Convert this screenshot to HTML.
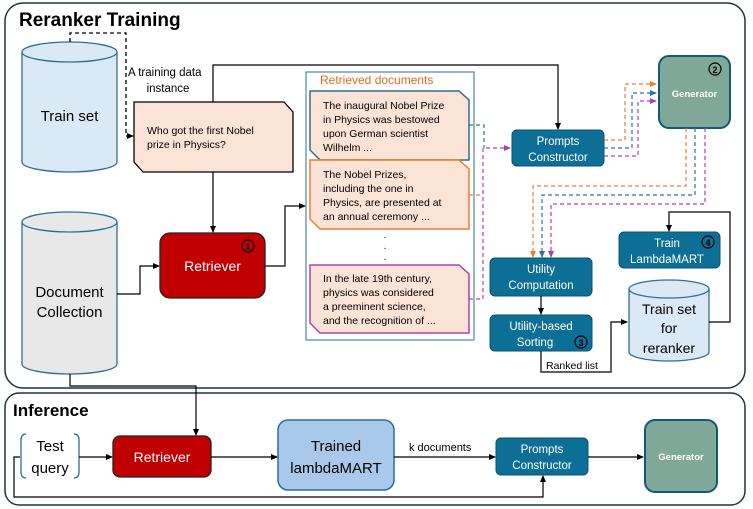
<!DOCTYPE html>
<html><head><meta charset="utf-8"><style>
html,body{margin:0;padding:0;background:#fff}
svg{display:block;font-family:"Liberation Sans",sans-serif}
</style></head><body>
<svg width="753" height="509" viewBox="0 0 753 509" xmlns="http://www.w3.org/2000/svg">
<defs>
<marker id="ak" markerWidth="8" markerHeight="8" refX="6" refY="3" orient="auto" markerUnits="userSpaceOnUse"><path d="M0,0 L7,3 L0,6 z" fill="#000"/></marker>
<marker id="ao" markerWidth="8" markerHeight="8" refX="6" refY="3" orient="auto" markerUnits="userSpaceOnUse"><path d="M0,0 L7,3 L0,6 z" fill="#ed7d31"/></marker>
<marker id="ab" markerWidth="8" markerHeight="8" refX="6" refY="3" orient="auto" markerUnits="userSpaceOnUse"><path d="M0,0 L7,3 L0,6 z" fill="#2e75a0"/></marker>
<marker id="ap" markerWidth="8" markerHeight="8" refX="6" refY="3" orient="auto" markerUnits="userSpaceOnUse"><path d="M0,0 L7,3 L0,6 z" fill="#b040b0"/></marker>
</defs>
<!-- outer boxes -->
<rect x="5" y="3" width="740" height="385" rx="18" fill="none" stroke="#1f3445" stroke-width="1.5"/>
<rect x="5" y="393" width="740" height="112" rx="14" fill="none" stroke="#1f3445" stroke-width="1.5"/>
<text x="19" y="26" font-size="19" font-weight="bold" fill="#000">Reranker Training</text>
<text x="13" y="416" font-size="17" font-weight="bold" fill="#000">Inference</text>

<!-- train set cylinder -->
<path d="M22,52 L22,162 A47.5,10 0 0 0 117,162 L117,52" fill="#dbe9f6" stroke="#2e6f96" stroke-width="1.3"/>
<ellipse cx="69.5" cy="52" rx="47.5" ry="10" fill="#dbe9f6" stroke="#2e6f96" stroke-width="1.3"/>
<text x="69.5" y="121" font-size="15" text-anchor="middle">Train set</text>
<!-- doc collection cylinder -->
<path d="M22,222 L22,364 A47.5,10 0 0 0 117,364 L117,222" fill="#e8e8e8" stroke="#2e6f96" stroke-width="1.3"/>
<ellipse cx="69.5" cy="222" rx="47.5" ry="10" fill="#e8e8e8" stroke="#2e6f96" stroke-width="1.3"/>
<text x="69.5" y="297" font-size="15" text-anchor="middle">Document</text>
<text x="69.5" y="317" font-size="15" text-anchor="middle">Collection</text>

<!-- dashed train set -> query -->
<path d="M70,42 L70,33 L126,33 L126,136 L133,136" fill="none" stroke="#000" stroke-width="1.3" stroke-dasharray="4,3" marker-end="url(#ak)"/>
<text x="128" y="76" font-size="11.5">A training data</text>
<text x="168" y="92" font-size="11.5" text-anchor="middle">instance</text>

<!-- query box -->
<path d="M134,102 L284,102 L293,112 L293,172 L143,172 L134,162 z" fill="#fbe3d6" stroke="#000" stroke-width="1.3"/>
<text x="147" y="134" font-size="10.5">Who got the first Nobel</text>
<text x="147" y="148" font-size="10.5">prize in Physics?</text>

<!-- query -> prompts constructor -->
<path d="M213,102 L213,65 L558,65 L558,129" fill="none" stroke="#000" stroke-width="1.2" marker-end="url(#ak)"/>
<!-- query -> retriever -->
<path d="M213,172 L213,232" fill="none" stroke="#000" stroke-width="1.2" marker-end="url(#ak)"/>
<!-- doc coll -> retriever -->
<path d="M117,294 L140,294 L140,266 L159,266" fill="none" stroke="#000" stroke-width="1.2" marker-end="url(#ak)"/>
<!-- retriever -> retrieved docs -->
<path d="M265,266 L285,266 L285,206 L305,206" fill="none" stroke="#000" stroke-width="1.2" marker-end="url(#ak)"/>

<!-- retriever -->
<rect x="160" y="233" width="105" height="65" rx="10" fill="#c00000" stroke="#222" stroke-width="1.3"/>
<text x="212.5" y="271" font-size="14" fill="#fff" text-anchor="middle">Retriever</text>
<circle cx="248" cy="246" r="6" fill="none" stroke="#000" stroke-width="1.2"/>
<text x="248" y="250" font-size="9" font-weight="bold" text-anchor="middle">1</text>

<!-- retrieved docs container -->
<rect x="306" y="72" width="168" height="268" fill="#fff" stroke="#4a8aa8" stroke-width="1.2"/>
<text x="320" y="84" font-size="12" fill="#e06a20">Retrieved documents</text>
<path d="M310,91 L459,91 L469,100 L469,160 L320,160 L310,150 z" fill="#fbe3d6" stroke="#2e6f96" stroke-width="1.5"/>
<text x="323" y="109" font-size="10.5">The inaugural Nobel Prize</text>
<text x="323" y="123" font-size="10.5">in Physics was bestowed</text>
<text x="323" y="137" font-size="10.5">upon German scientist</text>
<text x="323" y="151" font-size="10.5">Wilhelm ...</text>
<path d="M310,160 L459,160 L469,169 L469,229 L320,229 L310,219 z" fill="#fbe3d6" stroke="#ed7d31" stroke-width="1.5"/>
<text x="323" y="178" font-size="10.5">The Nobel Prizes,</text>
<text x="323" y="192" font-size="10.5">including the one in</text>
<text x="323" y="206" font-size="10.5">Physics, are presented at</text>
<text x="323" y="220" font-size="10.5">an annual ceremony ...</text>
<text x="385" y="238" font-size="10" text-anchor="middle">.</text>
<text x="385" y="249" font-size="10" text-anchor="middle">.</text>
<text x="385" y="260" font-size="10" text-anchor="middle">.</text>
<path d="M310,265 L459,265 L469,274 L469,333 L320,333 L310,323 z" fill="#fbe3d6" stroke="#b040b0" stroke-width="1.5"/>
<text x="323" y="282" font-size="10.5">In the late 19th century,</text>
<text x="323" y="296" font-size="10.5">physics was considered</text>
<text x="323" y="310" font-size="10.5">a preeminent science,</text>
<text x="323" y="324" font-size="10.5">and the recognition of ...</text>

<!-- dashed docs -> prompts -->
<path d="M469,125 L484,125 L484,148" fill="none" stroke="#2e75a0" stroke-width="1.2" stroke-dasharray="4,3"/>
<path d="M469,195 L483,195" fill="none" stroke="#ed7d31" stroke-width="1.2" stroke-dasharray="4,3"/>
<path d="M469,299 L483,299 L483,148 L510,148" fill="none" stroke="#b040b0" stroke-width="1.2" stroke-dasharray="4,3" marker-end="url(#ap)"/>

<!-- prompts constructor -->
<rect x="512" y="130" width="92" height="36" rx="5" fill="#0e6f96" stroke="#0a5070" stroke-width="1"/>
<text x="558" y="145" font-size="11.5" fill="#fff" text-anchor="middle">Prompts</text>
<text x="558" y="161" font-size="11.5" fill="#fff" text-anchor="middle">Constructor</text>

<!-- prompts -> generator dashed -->
<path d="M604,140 L625,140 L625,84 L656,84" fill="none" stroke="#ed7d31" stroke-width="1.2" stroke-dasharray="4,3" marker-end="url(#ao)"/>
<path d="M604,148 L632,148 L632,93 L656,93" fill="none" stroke="#2e75a0" stroke-width="1.2" stroke-dasharray="4,3" marker-end="url(#ab)"/>
<path d="M604,156 L638,156 L638,101 L656,101" fill="none" stroke="#b040b0" stroke-width="1.2" stroke-dasharray="4,3" marker-end="url(#ap)"/>

<!-- generator -->
<rect x="659" y="56" width="71" height="72" rx="10" fill="#7fa898" stroke="#0e5a78" stroke-width="2"/>
<text x="694.5" y="97" font-size="9.5" font-weight="bold" fill="#fff" text-anchor="middle">Generator</text>
<circle cx="715" cy="69" r="6" fill="none" stroke="#000" stroke-width="1.2"/>
<text x="715" y="73" font-size="9" font-weight="bold" text-anchor="middle">2</text>

<!-- generator -> utility dashed -->
<path d="M686,128 L686,186 L533,186 L533,257" fill="none" stroke="#ed7d31" stroke-width="1.2" stroke-dasharray="4,3" marker-end="url(#ao)"/>
<path d="M695,128 L695,195 L542,195 L542,257" fill="none" stroke="#2e75a0" stroke-width="1.2" stroke-dasharray="4,3" marker-end="url(#ab)"/>
<path d="M705,128 L705,204 L551,204 L551,257" fill="none" stroke="#b040b0" stroke-width="1.2" stroke-dasharray="4,3" marker-end="url(#ap)"/>

<!-- utility computation -->
<rect x="490" y="258" width="102" height="38" rx="5" fill="#0e6f96" stroke="#0a5070" stroke-width="1"/>
<text x="541" y="273" font-size="11.5" fill="#fff" text-anchor="middle">Utility</text>
<text x="541" y="289" font-size="11.5" fill="#fff" text-anchor="middle">Computation</text>
<path d="M541,296 L541,314" fill="none" stroke="#000" stroke-width="1.2" marker-end="url(#ak)"/>
<!-- sorting -->
<rect x="490" y="315" width="102" height="36" rx="5" fill="#0e6f96" stroke="#0a5070" stroke-width="1"/>
<text x="541" y="330" font-size="11.5" fill="#fff" text-anchor="middle">Utility-based</text>
<text x="535" y="346" font-size="11.5" fill="#fff" text-anchor="middle">Sorting</text>
<circle cx="581" cy="342" r="6" fill="none" stroke="#000" stroke-width="1.2"/>
<text x="581" y="346" font-size="9" font-weight="bold" text-anchor="middle">3</text>
<!-- ranked list -->
<path d="M541,351 L541,372 L611,372 L611,322 L627,322" fill="none" stroke="#000" stroke-width="1.2" marker-end="url(#ak)"/>
<text x="546" y="369" font-size="10.5">Ranked list</text>

<!-- train set for reranker -->
<path d="M629,289 L629,352 A40,9 0 0 0 709,352 L709,289" fill="#dbe9f6" stroke="#2e6f96" stroke-width="1.3"/>
<ellipse cx="669" cy="289" rx="40" ry="9" fill="#dbe9f6" stroke="#2e6f96" stroke-width="1.3"/>
<text x="669" y="314" font-size="14" text-anchor="middle">Train set</text>
<text x="669" y="333" font-size="14" text-anchor="middle">for</text>
<text x="669" y="353" font-size="14" text-anchor="middle">reranker</text>
<path d="M709,322 L730,322 L730,212 L669,212 L669,231" fill="none" stroke="#000" stroke-width="1.2" marker-end="url(#ak)"/>
<!-- train lambdamart -->
<rect x="619" y="232" width="101" height="36" rx="5" fill="#0e6f96" stroke="#0a5070" stroke-width="1"/>
<text x="667" y="247" font-size="11.5" fill="#fff" text-anchor="middle">Train</text>
<text x="667" y="263" font-size="11.5" fill="#fff" text-anchor="middle">LambdaMART</text>
<circle cx="708" cy="242" r="6" fill="none" stroke="#000" stroke-width="1.2"/>
<text x="708" y="246" font-size="9" font-weight="bold" text-anchor="middle">4</text>

<!-- inference -->
<path d="M70,374 L70,386 L196,386 L196,435" fill="none" stroke="#000" stroke-width="1.2" marker-end="url(#ak)"/>
<path d="M26,434 Q21,434 21,440 L21,472 Q21,478 26,478" fill="none" stroke="#2e6f96" stroke-width="1.3"/>
<path d="M74,434 Q79,434 79,440 L79,472 Q79,478 74,478" fill="none" stroke="#2e6f96" stroke-width="1.3"/>
<text x="50" y="451" font-size="15" text-anchor="middle">Test</text>
<text x="50" y="473" font-size="15" text-anchor="middle">query</text>
<path d="M79,457 L112,457" fill="none" stroke="#000" stroke-width="1.2" marker-end="url(#ak)"/>
<path d="M20,457 L14,457 L14,497 L543,497 L543,476" fill="none" stroke="#000" stroke-width="1.2" marker-end="url(#ak)"/>
<rect x="113" y="436" width="98" height="41" rx="7" fill="#c00000" stroke="#222" stroke-width="1.3"/>
<text x="162" y="462" font-size="14" fill="#fff" text-anchor="middle">Retriever</text>
<path d="M211,457 L277,457" fill="none" stroke="#000" stroke-width="1.2" marker-end="url(#ak)"/>
<rect x="278" y="420" width="116" height="70" rx="10" fill="#a9c9ea" stroke="#2e6f96" stroke-width="1.5"/>
<text x="336" y="451" font-size="15" text-anchor="middle">Trained</text>
<text x="336" y="473" font-size="15" text-anchor="middle">lambdaMART</text>
<path d="M394,457 L495,457" fill="none" stroke="#000" stroke-width="1.2" marker-end="url(#ak)"/>
<text x="409" y="451" font-size="11">k documents</text>
<rect x="496" y="438" width="92" height="37" rx="5" fill="#0e6f96" stroke="#0a5070" stroke-width="1"/>
<text x="542" y="453" font-size="11.5" fill="#fff" text-anchor="middle">Prompts</text>
<text x="542" y="469" font-size="11.5" fill="#fff" text-anchor="middle">Constructor</text>
<path d="M588,457 L643,457" fill="none" stroke="#000" stroke-width="1.2" marker-end="url(#ak)"/>
<rect x="645" y="420" width="72" height="72" rx="10" fill="#7fa898" stroke="#0e5a78" stroke-width="2"/>
<text x="681" y="460" font-size="9.5" font-weight="bold" fill="#fff" text-anchor="middle">Generator</text>
</svg>
</body></html>
